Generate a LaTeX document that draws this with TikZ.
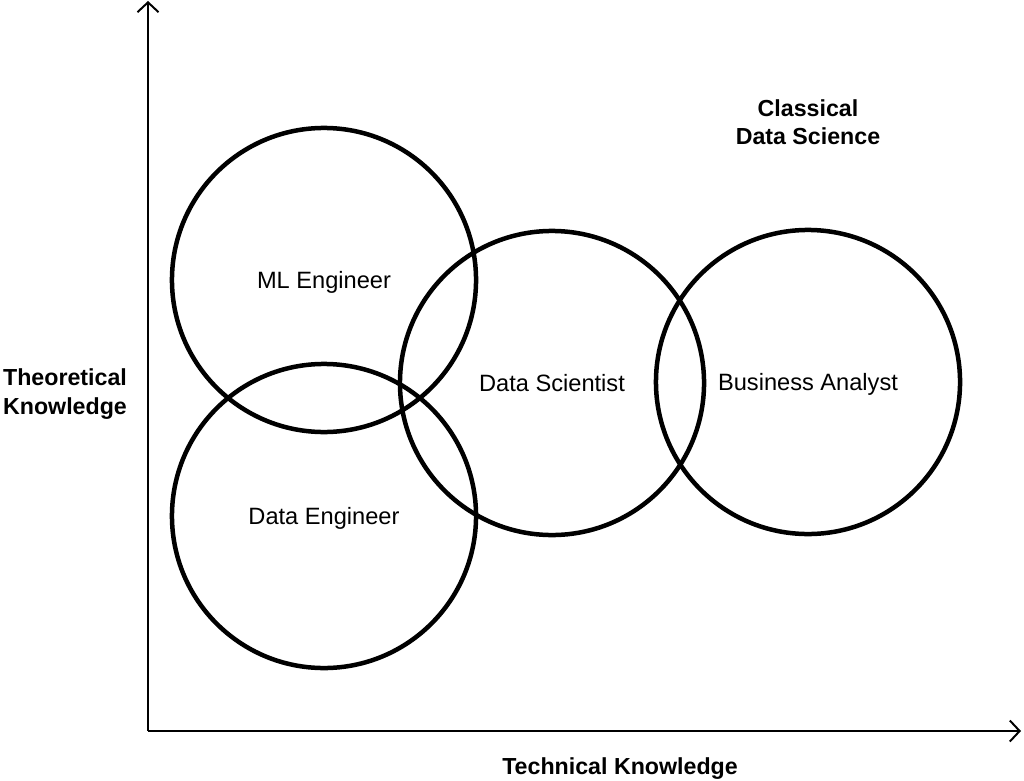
\documentclass[tikz,border=0pt]{standalone}
\usepackage{fontspec}
\setmainfont{Liberation Sans}
\usepackage{tikz}
\usetikzlibrary{arrows.meta}

\tikzset{
  venn/.style={circle, draw=black, line width=3.2pt, minimum size=7.6cm,
    text depth=0pt, font=\fontsize{16.8}{20}\selectfont},
  axislabel/.style={align=center, font=\fontsize{16.5}{20}\selectfont\bfseries},
  axis/.style={line width=1.4pt, -{Straight Barb[length=7pt,width=15pt,line width=1.4pt]}}
}

\begin{document}
\begin{tikzpicture}[x=0.025cm, y=-0.025cm]
\useasboundingbox (0,0) rectangle (1024,781);
%%% Draws axes
% axis end points
\coordinate (origin) at (148,731);
\coordinate (ytop) at (148,1);
\coordinate (xend) at (1021,731);
% draws axes
\draw[axis] (origin) -- (ytop);
\draw[axis] (origin) -- (xend);
% labels axes
\node[axislabel] (theory) at (65,394) {Theoretical\\Knowledge};
\node[axislabel] (tech) at (620,769) {Technical Knowledge};
\node[axislabel] (classic) at (808,122) {Classical\\Data Science};
%%% Draws roles
\node[venn] (ml) at (324,280) {ML Engineer};
\node[venn] (de) at (324,516) {Data Engineer};
\node[venn] (ds) at (552,383) {Data Scientist};
\node[venn] (ba) at (808,382) {Business Analyst};
\end{tikzpicture}
\end{document}
